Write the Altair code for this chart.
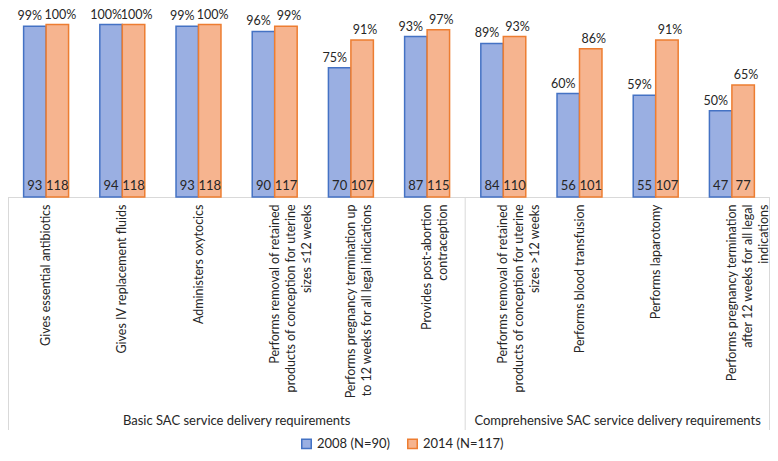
import altair as alt
import pandas as pd

categories = [
    "Gives essential antibiotics",
    "Gives IV replacement fluids",
    "Administers oxytocics",
    "Performs removal of retained|products of conception for uterine|sizes \u226412 weeks",
    "Performs pregnancy termination up|to 12 weeks for all legal indications",
    "Provides post-abortion|contraception",
    "Performs removal of retained|products of conception for uterine|sizes >12 weeks",
    "Performs blood transfusion",
    "Performs laparotomy",
    "Performs pregnancy termination|after 12 weeks for all legal|indications",
]
years = ["2008 (N=90)", "2014 (N=117)"]
pct_2008 = [99, 100, 99, 96, 75, 93, 89, 60, 59, 50]
pct_2014 = [100, 100, 100, 99, 91, 97, 93, 86, 91, 65]
n_2008 = [93, 94, 93, 90, 70, 87, 84, 56, 55, 47]
n_2014 = [118, 118, 118, 117, 107, 115, 110, 101, 107, 77]
groups = ["Basic SAC service delivery requirements",
          "Comprehensive SAC service delivery requirements"]

FONT = "Lato"
W, H = 762, 188
STEP = W / len(categories)
BOTTOM = 421

rows = []
for i, c in enumerate(categories):
    rows.append({"cat": c, "year": years[0], "pct": pct_2008[i], "n": n_2008[i]})
    rows.append({"cat": c, "year": years[1], "pct": pct_2014[i], "n": n_2014[i]})
df = pd.DataFrame(rows)
df["pct_label"] = df["pct"].astype(str) + "%"

x_enc = alt.X(
    "cat:N", sort=categories,
    scale=alt.Scale(paddingInner=0.41, paddingOuter=0.205),
    axis=alt.Axis(
        title=None, labelAngle=-90, labelAlign="right", labelBaseline="middle",
        labelExpr="split(datum.label, '|')", labelFont=FONT, labelFontSize=12.5,
        labelLineHeight=16, labelPadding=7, labelLimit=400, labelOverlap=False,
        labelColor="#262626", ticks=False, domainColor="#D9D9D9", domainWidth=1,
    ),
)
xo_enc = alt.XOffset("year:N", sort=years, scale=alt.Scale(paddingInner=0))
y_scale = alt.Scale(domain=[0, 109])

legend = alt.Legend(
    title=None, orient="none", legendX=292, legendY=428, direction="horizontal",
    symbolType="square", symbolSize=90, symbolStrokeWidth=1.5,
    labelFont=FONT, labelFontSize=13, labelColor="#262626", columnPadding=14,
)

base = alt.Chart(df)

bars = base.mark_bar(strokeWidth=1.5).encode(
    x=x_enc,
    xOffset=xo_enc,
    y=alt.Y("pct:Q", scale=y_scale, axis=None),
    color=alt.Color("year:N", sort=years,
                    scale=alt.Scale(domain=years, range=["#9AAFE2", "#F6B48F"]),
                    legend=legend),
    stroke=alt.Stroke("year:N", sort=years,
                      scale=alt.Scale(domain=years, range=["#4472C4", "#ED7D31"]),
                      legend=legend),
)

def pct_layer(year, dx):
    return base.transform_filter(alt.datum.year == year).mark_text(
        baseline="bottom", dy=-3, dx=dx, font=FONT, fontSize=12.5, color="#262626"
    ).encode(
        x=x_enc, xOffset=xo_enc,
        y=alt.Y("pct:Q", scale=y_scale, axis=None),
        text="pct_label:N",
    )

pct_a = pct_layer(years[0], -5)
pct_b = pct_layer(years[1], 3)

n_text = base.mark_text(baseline="bottom", dy=-4, font=FONT, fontSize=13,
                        color="#262626").encode(
    x=x_enc, xOffset=xo_enc,
    y=alt.datum(0, scale=y_scale),
    text="n:Q",
)

one = alt.Data(values=[{}])
frame = [
    alt.Chart(one).mark_rule(color="#D9D9D9", strokeWidth=1).encode(
        x=alt.value(px), y=alt.value(H), y2=alt.value(BOTTOM))
    for px in [0.5, STEP * 6, W - 0.5]
]
titles = [
    alt.Chart(one).mark_text(font=FONT, fontSize=13, color="#262626").encode(
        x=alt.value(STEP * cx), y=alt.value(BOTTOM - 9), text=alt.value(t))
    for t, cx in zip(groups, [3, 8])
]

chart = alt.layer(bars, pct_a, pct_b, n_text, *frame, *titles).properties(
    width=W, height=H, padding=0,
).configure_view(stroke=None)

chart.save("out.html", embed_options={"renderer": "svg", "actions": False})
